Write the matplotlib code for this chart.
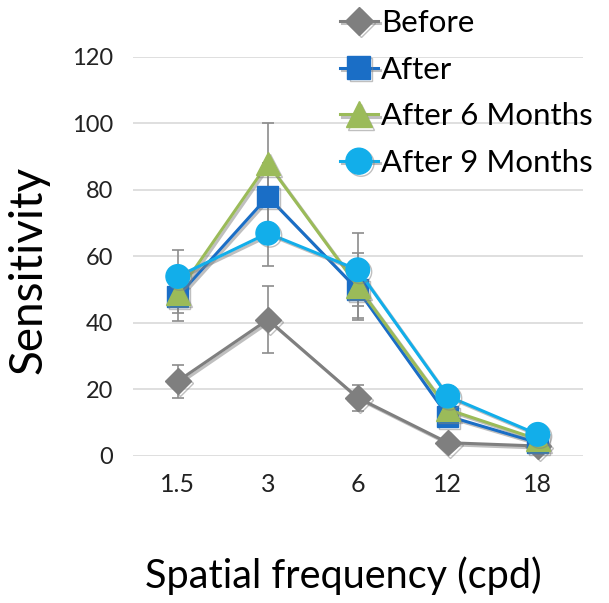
import numpy as np
import matplotlib
matplotlib.use("Agg")
import matplotlib.pyplot as plt
import matplotlib.patheffects as pe

plt.rcParams['font.family'] = ['Lato', 'DejaVu Sans']

# Data
freq_labels = ['1.5', '3', '6', '12', '18']
before = [22.5, 41, 17.5, 4, 3]
after = [48, 78, 50, 12, 4]
after_6m = [49, 88, 51, 14, 5]
after_9m = [54, 67, 56, 18, 6.5]

# error bars (approximate)
err_before = [5, 10, 4, 1.5, 1]
err_after = [7.5, 10, 8.5, 3, 2]
err_6m = [6, 12, 10, 3, 2]
err_9m = [8, 10, 11, 3, 2]

series = [
    ('Before', before, err_before, '#7f7f7f', 'D', 13),
    ('After', after, err_after, '#1a6ec6', 's', 15),
    ('After 6 Months', after_6m, err_6m, '#9bbb59', '^', 17),
    ('After 9 Months', after_9m, err_9m, '#12aeea', 'o', 17),
]

fig = plt.figure(figsize=(6.09, 6.03), dpi=100)
ax = fig.add_axes([0.218, 0.2438, 0.739, 0.6617])

x = np.arange(len(freq_labels))
shadow = [pe.SimpleLineShadow(offset=(1.5, -1.5), shadow_color='gray', alpha=0.5), pe.Normal()]

for name, vals, err, color, marker, ms in series:
    ax.errorbar(x, vals, yerr=err, fmt='none', ecolor='#8c8c8c', elinewidth=1.2,
                capsize=4, capthick=1.2, zorder=2, clip_on=False)
for name, vals, err, color, marker, ms in series:
    line, = ax.plot(x, vals, color=color, lw=2.2, marker=marker, markersize=ms,
                    label=name, zorder=3, clip_on=False)
    line.set_path_effects(shadow)

ax.set_xlim(-0.5, 4.5)
ax.set_ylim(0, 120)
ax.set_yticks(np.arange(0, 121, 20))
ax.set_xticks(x)
ax.set_xticklabels(freq_labels)
ax.tick_params(axis='both', length=0, colors='#222222')
ax.tick_params(axis='y', labelsize=17, pad=14)
ax.tick_params(axis='x', labelsize=18, pad=12)
ax.grid(axis='y', color='#d9d9d9', lw=1.2)
ax.set_axisbelow(True)
for s in ax.spines.values():
    s.set_visible(False)

ax.set_ylabel('Sensitivity', fontsize=33, va='center')
ax.yaxis.set_label_coords(-0.231, 0.466)
ax.set_xlabel('Spatial frequency (cpd)', fontsize=28.5, va='center')
ax.xaxis.set_label_coords(0.467, -0.30)

leg = fig.legend(loc='upper left', bbox_to_anchor=(0.538, 1.006), frameon=False,
                 fontsize=22.5, handlelength=1.2, handletextpad=0.1,
                 labelspacing=0.6, borderaxespad=0, markerscale=1.1)

fig.savefig('out.png', dpi=100)
